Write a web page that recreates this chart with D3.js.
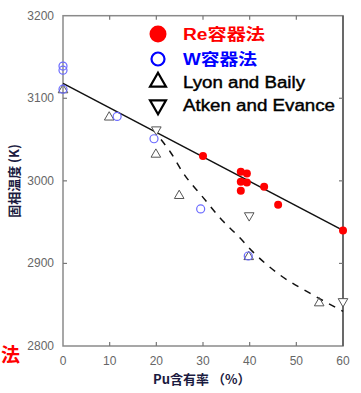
<!DOCTYPE html>
<html>
<head>
<meta charset="utf-8">
<script src="https://cdn.jsdelivr.net/npm/d3@7"></script>
<style>
  body { margin: 0; background: #fff; }
  svg { display: block; }
</style>
</head>
<body>
<div class="chart"></div>
<script>
// Re容器法 (filled red)
var reData = [[30, 3030], [38.1, 3011], [39.4, 3009], [38.1, 2999], [39.4, 2998], [38.1, 2988], [43.1, 2993], [46.1, 2971], [60, 2940]];
// W容器法 (open blue)
var wData = [[0, 3139], [0, 3134], [0, 3111], [11.6, 3078], [19.5, 3051], [29.5, 2966], [39.7, 2909]];
// Lyon and Baily
var lyonData = [[0, 3110], [9.9, 3077], [19.9, 3032], [24.9, 2982], [39.8, 2908], [54.9, 2852]];
// Atken and Evance
var atkenData = [[20, 3062], [39.9, 2958], [60, 2854]];
// fitted lines
var solidLine = [[0, 3118], [60, 2940]];
var dashLine = [[21, 3050], [23, 3035], [25.7, 3010], [30, 2980], [34, 2953], [37.9, 2931], [40.7, 2914], [46.5, 2886], [52.9, 2864], [60, 2842]];

var xTicks = [0, 10, 20, 30, 40, 50, 60];
var yTicks = [2800, 2900, 3000, 3100, 3200];
var legendNames = ["Re容器法", "W容器法", "Lyon and Baily", "Atken and Evance"];
var legendColors = ["#ff0000", "#0000ff", "#000", "#000"];
var legendWidths = [82, 74, 122, 152];

var width = 361, height = 393;
var x = d3.scaleLinear().domain([0, 60]).range([63, 343]);
var y = d3.scaleLinear().domain([2800, 3200]).range([346, 15.7]);

var svg = d3.select(".chart").append("svg")
  .attr("width", width)
  .attr("height", height);

// frame
svg.append("rect")
  .attr("x", x(0)).attr("y", y(3200))
  .attr("width", x(60) - x(0)).attr("height", y(2800) - y(3200))
  .attr("fill", "none").attr("stroke", "#8a8a8a").attr("stroke-width", 1.5);
svg.append("line")
  .attr("x1", x(60)).attr("x2", x(60)).attr("y1", y(3200)).attr("y2", y(2800))
  .attr("stroke", "#555").attr("stroke-width", 1.5);

// inward ticks
var tk = svg.append("g").attr("stroke", "#777").attr("stroke-width", 1.2);
xTicks.slice(1, -1).forEach(function(t) {
  tk.append("line").attr("x1", x(t)).attr("x2", x(t)).attr("y1", y(2800)).attr("y2", y(2800) - 4);
  tk.append("line").attr("x1", x(t)).attr("x2", x(t)).attr("y1", y(3200)).attr("y2", y(3200) + 4);
});
yTicks.slice(1, -1).forEach(function(t) {
  tk.append("line").attr("x1", x(0)).attr("x2", x(0) + 4).attr("y1", y(t)).attr("y2", y(t));
  tk.append("line").attr("x1", x(60)).attr("x2", x(60) - 4).attr("y1", y(t)).attr("y2", y(t));
});

// tick labels
svg.append("g").selectAll("text").data(xTicks).enter().append("text")
  .attr("x", function(d) { return x(d); })
  .attr("y", 365)
  .attr("text-anchor", "middle")
  .attr("font-family", "Liberation Sans Narrow, Liberation Sans, Arial")
  .attr("font-size", 12)
  .attr("fill", "#666")
  .text(function(d) { return d; });
svg.append("g").selectAll("text").data(yTicks).enter().append("text")
  .attr("x", 54)
  .attr("y", function(d) { return y(d) + 4; })
  .attr("text-anchor", "end")
  .attr("font-family", "Liberation Sans Narrow, Liberation Sans, Arial")
  .attr("font-size", 12)
  .attr("fill", "#666")
  .text(function(d) { return d; });

// axis titles
svg.append("text")
  .attr("x", 153).attr("y", 384)
  .attr("font-family", "Noto Sans CJK JP, sans-serif")
  .attr("font-size", 13)
  .attr("font-weight", "bold")
  .attr("fill", "#1a1a40")
  .text("Pu含有率 （%）");
svg.append("text")
  .attr("transform", "translate(19,181) rotate(-90)")
  .attr("text-anchor", "middle")
  .attr("font-family", "Noto Sans CJK JP, sans-serif")
  .attr("font-size", 13)
  .attr("font-weight", "bold")
  .attr("fill", "#1a1a40")
  .text("固相温度 (K)");

svg.append("text")
  .attr("x", 1).attr("y", 362)
  .attr("font-family", "Noto Sans CJK JP, sans-serif")
  .attr("font-size", 19)
  .attr("font-weight", "bold")
  .attr("fill", "#ff0000")
  .text("法");

// lines
var line = d3.line().x(function(d) { return x(d[0]); }).y(function(d) { return y(d[1]); });
svg.append("path").datum(solidLine).attr("d", line)
  .attr("fill", "none").attr("stroke", "#111").attr("stroke-width", 1.5);
svg.append("path").datum(dashLine).attr("d", line.curve(d3.curveMonotoneX))
  .attr("fill", "none").attr("stroke", "#111").attr("stroke-width", 1.5)
  .attr("stroke-dasharray", "7,7");

// markers
var tri = d3.symbol().type(d3.symbolTriangle).size(40);
svg.append("g").selectAll("path").data(lyonData).enter().append("path")
  .attr("d", tri)
  .attr("transform", function(d) { return "translate(" + x(d[0]) + "," + y(d[1]) + ")"; })
  .attr("fill", "none").attr("stroke", "#555").attr("stroke-width", 1);
svg.append("g").selectAll("path").data(atkenData).enter().append("path")
  .attr("d", tri)
  .attr("transform", function(d) { return "translate(" + x(d[0]) + "," + y(d[1]) + ") rotate(180)"; })
  .attr("fill", "#fff").attr("stroke", "#555").attr("stroke-width", 1);
svg.append("g").selectAll("circle").data(wData).enter().append("circle")
  .attr("cx", function(d) { return x(d[0]); })
  .attr("cy", function(d) { return y(d[1]); })
  .attr("r", 4)
  .attr("fill", "none").attr("stroke", "#6b6bff").attr("stroke-width", 1.2);
svg.append("g").selectAll("circle").data(reData).enter().append("circle")
  .attr("cx", function(d) { return x(d[0]); })
  .attr("cy", function(d) { return y(d[1]); })
  .attr("r", 4)
  .attr("fill", "#ff0000");

// legend
var lg = svg.append("g");
var lgY = [34, 59, 82, 105];
lg.append("circle").attr("cx", 158).attr("cy", lgY[0]).attr("r", 8.5).attr("fill", "#ff0000");
lg.append("circle").attr("cx", 158).attr("cy", lgY[1]).attr("r", 6.5)
  .attr("fill", "none").attr("stroke", "#0000ff").attr("stroke-width", 2.2);
var bigTri = d3.symbol().type(d3.symbolTriangle).size(110);
lg.append("path").attr("d", bigTri).attr("transform", "translate(158," + lgY[2] + ")")
  .attr("fill", "none").attr("stroke", "#000").attr("stroke-width", 2.2);
lg.append("path").attr("d", bigTri).attr("transform", "translate(158," + lgY[3] + ") rotate(180)")
  .attr("fill", "none").attr("stroke", "#000").attr("stroke-width", 2.2);
lg.selectAll("text").data(legendNames).enter().append("text")
  .attr("x", 183)
  .attr("y", function(d, i) { return lgY[i] + 6; })
  .attr("font-family", "Liberation Sans, Noto Sans CJK JP, sans-serif")
  .attr("font-size", 16)
  .attr("font-weight", function(d, i) { return i < 2 ? "bold" : "normal"; })
  .attr("fill", function(d, i) { return legendColors[i]; })
  .attr("stroke", function(d, i) { return i < 2 ? "none" : "#000"; })
  .attr("stroke-width", 0.4)
  .attr("textLength", function(d, i) { return legendWidths[i]; })
  .attr("lengthAdjust", "spacingAndGlyphs")
  .text(function(d) { return d; });
</script>
</body>
</html>
